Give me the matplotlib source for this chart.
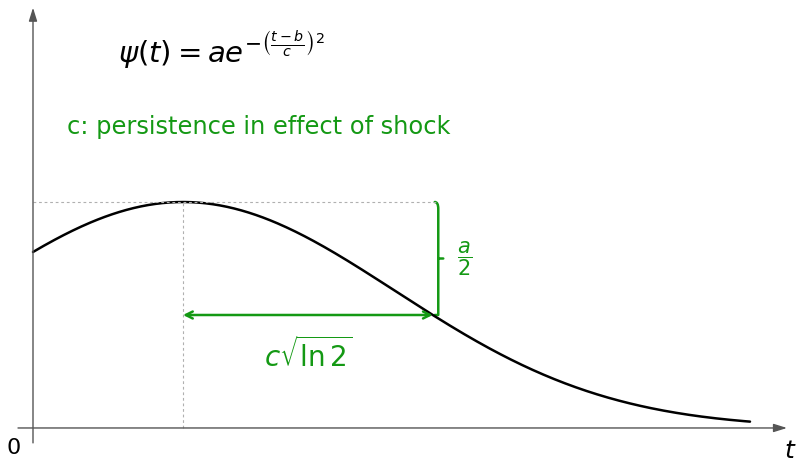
import numpy as np
import matplotlib
matplotlib.use("Agg")
import matplotlib.pyplot as plt
from matplotlib.path import Path
from matplotlib.patches import PathPatch

# parameters of the curve
a = 1.0
b = 1.5
c = 3.0
t_end = 7.17

formula = r"$\psi(t) = ae^{-\left(\frac{t-b}{c}\right)^2}$"
note = "c: persistence in effect of shock"
half_label = r"$\dfrac{a}{2}$"
width_label = r"$c\sqrt{\ln 2}$"

green = "#149914"
plt.rcParams['mathtext.fontset'] = 'dejavusans'

fig = plt.figure(figsize=(7.96, 4.63), dpi=100)
ax = fig.add_axes([0, 0, 1, 1])
ax.set_xlim(-0.33, 7.63)
ax.set_ylim(-0.155, 1.894)
ax.axis('off')

# axes arrows
axcol = "#555555"
ax.annotate("", xy=(7.54, 0), xytext=(-0.15, 0),
            arrowprops=dict(arrowstyle="-|>,head_length=0.8,head_width=0.25", color=axcol, lw=1.0, shrinkA=0, shrinkB=0))
ax.annotate("", xy=(0, 1.86), xytext=(0, -0.066),
            arrowprops=dict(arrowstyle="-|>,head_length=0.8,head_width=0.25", color=axcol, lw=1.0, shrinkA=0, shrinkB=0))
ax.text(-0.19, -0.09, "0", fontsize=16, ha='center', va='center', color='black')
ax.text(7.57, -0.1, r"$t$", fontsize=18, ha='center', va='center', color='black')

# curve
t = np.linspace(0, t_end, 400)
psi = a * np.exp(-((t - b) / c) ** 2)
ax.plot(t, psi, color='black', lw=1.8, solid_capstyle='round')

w = c * np.sqrt(np.log(2))
xb = b + w + 0.055  # brace position

# dotted guides
ax.plot([0, xb], [a, a], color='#b0b0b0', lw=0.8, ls=(0, (2.5, 2.5)))
ax.plot([b, b], [0, a], color='#b0b0b0', lw=0.8, ls=(0, (2.5, 2.5)))

# width arrow
ax.annotate("", xy=(b + w, a / 2), xytext=(b, a / 2),
            arrowprops=dict(arrowstyle="<->,head_length=0.5,head_width=0.25", color=green, lw=1.8, shrinkA=0, shrinkB=0))
ax.text(b + w / 2, a / 2 - 0.175, width_label, fontsize=20, color=green, ha='center', va='center')

# brace
y0, y1 = a / 2, a
ym = (y0 + y1) / 2
dx = 0.035
tip = 0.05
r = 0.03
verts = [(xb - dx, y1), (xb, y1), (xb, y1 - r), (xb, y1 - 2 * r),
         (xb, ym + r), (xb, ym), (xb + tip, ym),
         (xb, ym), (xb, ym - r), (xb, ym - 2 * r),
         (xb, y0 + 2 * r), (xb, y0 + r), (xb, y0), (xb - dx, y0)]
codes = [Path.MOVETO, Path.CURVE3, Path.CURVE3, Path.LINETO,
         Path.CURVE3, Path.CURVE3, Path.LINETO,
         Path.MOVETO, Path.CURVE3, Path.CURVE3,
         Path.LINETO, Path.CURVE3, Path.CURVE3, Path.LINETO]
ax.add_patch(PathPatch(Path(verts, codes), fill=False, edgecolor=green, lw=1.8,
                       capstyle='round', joinstyle='round'))
ax.text(xb + 0.26, ym, half_label, fontsize=15, color=green, ha='center', va='center')

# texts
ax.text(1.88, 1.67, formula, fontsize=21, color='black', ha='center', va='center')
ax.text(0.34, 1.33, note, fontsize=17.4, color=green, ha='left', va='center')

fig.savefig("out.png", dpi=100)
